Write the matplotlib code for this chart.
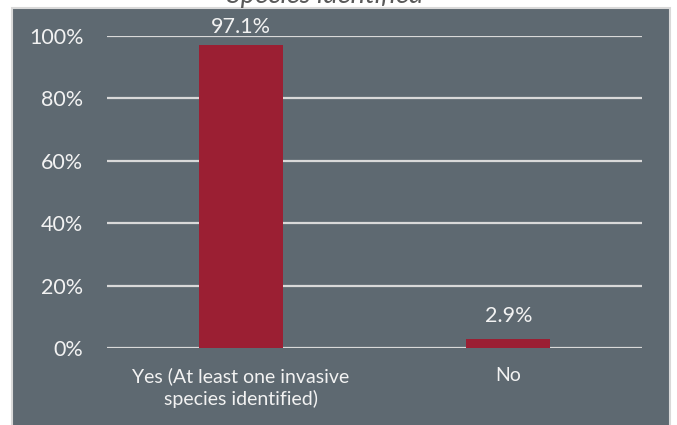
import matplotlib
matplotlib.use("Agg")
import matplotlib.pyplot as plt
from matplotlib.patches import Rectangle
from matplotlib.ticker import PercentFormatter

categories = ["Yes (At least one invasive\nspecies identified)", "No"]
shares = [97.1, 2.9]
label_offsets_px = [8, 13]
yticks = [0, 20, 40, 60, 80, 100]
title = "Species identified"

W, H, DPI = 677, 425, 100
panel_color = "#5E6971"
bar_color = "#9B1F33"
text_color = "#F2F2F2"
grid_color = "#D9D9D9"

plt.rcParams["font.family"] = ["Lato", "DejaVu Sans"]

fig = plt.figure(figsize=(W / DPI, H / DPI), dpi=DPI)
fig.patch.set_facecolor("white")

# dark panel behind the chart
panel = Rectangle((12 / W, -0.01), (670 - 12) / W, 1 - 8 / H + 0.01,
                  transform=fig.transFigure, facecolor=panel_color,
                  edgecolor=grid_color, linewidth=1.5, zorder=0)
fig.patches.append(panel)

fig.text(325 / W, 1 - 3.5 / H, title, ha="center", va="baseline",
         fontsize=19.5, style="italic", color="#595959")

ax = fig.add_axes([107 / W, 1 - 348 / H, (642 - 107) / W, (348 - 36) / H])
ax.set_zorder(2)
ax.set_facecolor("none")
x = range(len(categories))
bars = ax.bar(x, shares, width=0.315, color=bar_color, zorder=3)
ax.set_xlim(-0.5, len(categories) - 0.5)
ax.set_ylim(0, 100)
ax.set_yticks(yticks)
ax.yaxis.set_major_formatter(PercentFormatter(decimals=0))
ax.grid(axis="y", color=grid_color, linewidth=1.6, zorder=1)
for s in ax.spines.values():
    s.set_visible(False)
ax.tick_params(axis="both", length=0, colors=text_color)
ax.tick_params(axis="y", pad=17, labelsize=15.5)
ax.tick_params(axis="x", pad=14, labelsize=14)
ax.set_xticks(list(x))
ax.set_xticklabels(categories, linespacing=1.3)

for rect, v, off in zip(bars, shares, label_offsets_px):
    ax.annotate(f"{v:.1f}%", (rect.get_x() + rect.get_width() / 2, v),
                xytext=(0, off * 72 / DPI), textcoords="offset points",
                ha="center", va="bottom", color=text_color, fontsize=15.5)

fig.savefig("out.png", dpi=DPI)
